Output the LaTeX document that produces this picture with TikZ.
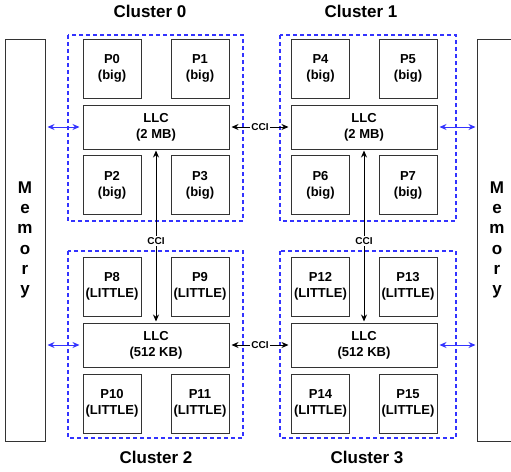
\documentclass[tikz,border=0pt]{standalone}
\usepackage{fontspec}
\setmainfont{Liberation Sans}
\usetikzlibrary{arrows.meta}
\definecolor{boxline}{HTML}{333333}
\definecolor{clblue}{HTML}{3333FF}
\tikzset{
  core/.style={draw=boxline, line width=1pt, minimum width=58pt, minimum height=59pt, inner sep=0pt, align=center, font=\fontsize{13}{16}\selectfont\bfseries},
  llc/.style={draw=boxline, line width=1pt, minimum width=146pt, minimum height=44pt, inner sep=0pt, align=center, font=\fontsize{13}{16}\selectfont\bfseries},
  cluster/.style={draw=clblue, line width=1.4pt, dash pattern=on 4pt off 3pt},
  mem/.style={draw=boxline, line width=1pt, minimum width=40pt, minimum height=402pt, inner sep=0pt, align=center, font=\fontsize{17}{20.3}\selectfont\bfseries},
  ctitle/.style={font=\fontsize{17}{20}\selectfont\bfseries},
  ccilab/.style={fill=white, inner sep=1.5pt, font=\fontsize{10}{11}\selectfont\bfseries},
  cciarrow/.style={black, line width=1pt, {Stealth[length=7pt,width=6pt]}-{Stealth[length=7pt,width=6pt]}},
  memarrow/.style={clblue, line width=1pt, {Stealth[length=7pt,width=6pt]}-{Stealth[length=7pt,width=6pt]}},
}
\begin{document}
\begin{tikzpicture}[x=1pt,y=-1pt]
\useasboundingbox (0,0) rectangle (511,471);
\begin{scope}
\clip (0,0) rectangle (511,471);
% memories
\node[mem] (memL) at (25,240) {M\\e\\m\\o\\r\\y};
\node[mem, minimum width=44pt] (memR) at (499,240) {};
\node[font=\fontsize{17}{20.3}\selectfont\bfseries, align=center] (memRt) at (497,240) {M\\e\\m\\o\\r\\y};
\end{scope}
% cluster frames
\draw[cluster] (68,35) rectangle (243,221);
\draw[cluster] (280,35) rectangle (456,221);
\draw[cluster] (68,251) rectangle (243,438);
\draw[cluster] (280,251) rectangle (456,438);
% titles
\node[ctitle] (t0) at (150,11) {Cluster 0};
\node[ctitle] (t1) at (361,11) {Cluster 1};
\node[ctitle] (t2) at (156,457) {Cluster 2};
\node[ctitle] (t3) at (367,457) {Cluster 3};
% cluster 0
\node[core] (p0) at (112,68.5) {P0\\(big)};
\node[core] (p1) at (200,68.5) {P1\\(big)};
\node[llc] (l0) at (156,127) {LLC\\(2 MB)};
\node[core] (p2) at (112,185) {P2\\(big)};
\node[core] (p3) at (200,185) {P3\\(big)};
% cluster 1
\node[core] (p4) at (320.5,68.5) {P4\\(big)};
\node[core] (p5) at (408,68.5) {P5\\(big)};
\node[llc] (l1) at (364,127) {LLC\\(2 MB)};
\node[core] (p6) at (320.5,185) {P6\\(big)};
\node[core] (p7) at (408,185) {P7\\(big)};
% cluster 2
\node[core] (p8) at (112,286.5) {P8\\(LITTLE)};
\node[core] (p9) at (200,286.5) {P9\\(LITTLE)};
\node[llc] (l2) at (156,345) {LLC\\(512 KB)};
\node[core] (p10) at (112,403.5) {P10\\(LITTLE)};
\node[core] (p11) at (200,403.5) {P11\\(LITTLE)};
% cluster 3
\node[core] (p12) at (320.5,286.5) {P12\\(LITTLE)};
\node[core] (p13) at (408,286.5) {P13\\(LITTLE)};
\node[llc] (l3) at (364,345) {LLC\\(512 KB)};
\node[core] (p14) at (320.5,403.5) {P14\\(LITTLE)};
\node[core] (p15) at (408,403.5) {P15\\(LITTLE)};
% CCI connections
\draw[cciarrow, shorten <=2pt, shorten >=2pt] (l0.east) -- node[ccilab] (c01) {CCI} (l1.west);
\draw[cciarrow, shorten <=2pt, shorten >=2pt] (l2.east) -- node[ccilab] (c23) {CCI} (l3.west);
\draw[cciarrow, shorten <=1pt, shorten >=1pt] (l0.south) -- node[ccilab, pos=0.53] (c02) {CCI} (l2.north);
\draw[cciarrow, shorten <=1pt, shorten >=1pt] (l1.south) -- node[ccilab, pos=0.53] (c13) {CCI} (l3.north);
% memory links
\draw[memarrow, shorten <=3pt, shorten >=2pt] (l0.west) -- (l0.west -| memL.east);
\draw[memarrow, shorten <=3pt, shorten >=2pt] (l2.west) -- (l2.west -| memL.east);
\draw[memarrow, shorten <=2pt, shorten >=1pt] (l1.east) -- (l1.east -| memR.west);
\draw[memarrow, shorten <=2pt, shorten >=1pt] (l3.east) -- (l3.east -| memR.west);
\end{tikzpicture}
\end{document}
